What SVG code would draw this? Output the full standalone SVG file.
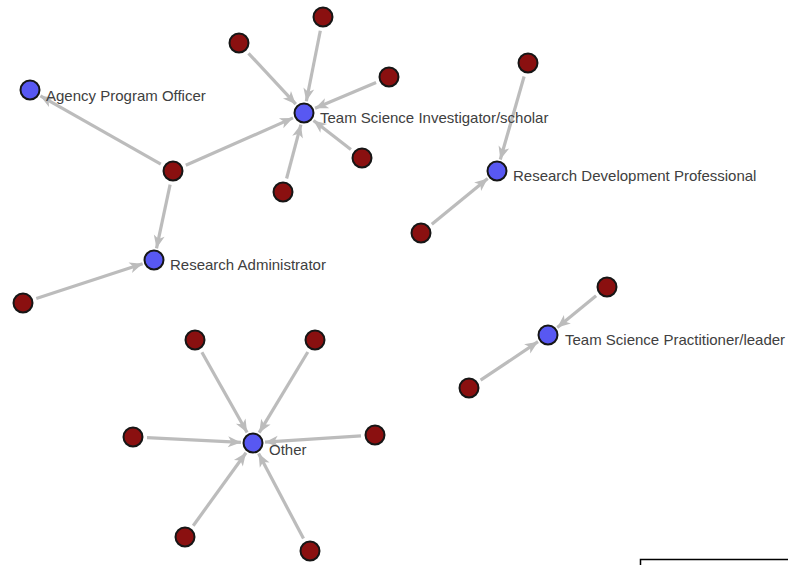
<svg xmlns="http://www.w3.org/2000/svg" width="788" height="565" viewBox="0 0 788 565">
<style>
.e{stroke:#bcbcbc;stroke-width:3.2;fill:none;marker-end:url(#ah)}
.b{fill:#5858f2;stroke:#161616;stroke-width:2}
.r{fill:#8a1010;stroke:#161616;stroke-width:2}
.t{font-family:"Liberation Sans",Arial,sans-serif;font-size:15px;fill:#404040}
</style>
<defs>
<marker id="ah" markerUnits="userSpaceOnUse" markerWidth="14" markerHeight="12" refX="13" refY="5.5" orient="auto" overflow="visible">
<path d="M0,0 L13,5.5 L0,11 L3.5,5.5 Z" fill="#bcbcbc"/>
</marker>
</defs>
<rect width="788" height="565" fill="#fff"/>
<g id="connectors">
<line class="e" x1="248.5" y1="53.3" x2="295.8" y2="104.2"/>
<line class="e" x1="320.3" y1="30.7" x2="306.3" y2="101.2"/>
<line class="e" x1="376.1" y1="82.5" x2="315.1" y2="108.3"/>
<line class="e" x1="350.9" y1="149.4" x2="313.5" y2="120.4"/>
<line class="e" x1="286.6" y1="178.5" x2="300.9" y2="124.6"/>
<line class="e" x1="185.8" y1="165.3" x2="293.0" y2="117.9"/>
<line class="e" x1="160.8" y1="164.1" x2="40.4" y2="95.9"/>
<line class="e" x1="170.1" y1="184.7" x2="156.5" y2="248.3"/>
<line class="e" x1="36.3" y1="298.6" x2="142.6" y2="263.7"/>
<line class="e" x1="524.1" y1="76.5" x2="500.3" y2="159.5"/>
<line class="e" x1="431.8" y1="224.2" x2="487.7" y2="178.6"/>
<line class="e" x1="596.1" y1="295.8" x2="557.3" y2="327.4"/>
<line class="e" x1="480.6" y1="380.2" x2="538.0" y2="341.7"/>
<line class="e" x1="201.9" y1="352.2" x2="247.1" y2="432.5"/>
<line class="e" x1="307.8" y1="352.0" x2="259.2" y2="432.7"/>
<line class="e" x1="147.0" y1="437.7" x2="241.0" y2="442.4"/>
<line class="e" x1="361.0" y1="435.9" x2="265.0" y2="442.2"/>
<line class="e" x1="193.2" y1="525.7" x2="246.0" y2="452.7"/>
<line class="e" x1="303.5" y1="538.6" x2="258.6" y2="453.6"/>
</g>
<g id="apo"><circle class="b" cx="30" cy="90" r="9.5"/><text class="t" x="46" y="101">Agency Program Officer</text></g>
<g id="tsi"><circle class="b" cx="304" cy="113" r="9.5"/><text class="t" x="320" y="123">Team Science Investigator/scholar</text></g>
<g id="rdp"><circle class="b" cx="497" cy="171" r="9.5"/><text class="t" x="513" y="181">Research Development Professional</text></g>
<g id="ra"><circle class="b" cx="154" cy="260" r="9.5"/><text class="t" x="170" y="270">Research Administrator</text></g>
<g id="tsp"><circle class="b" cx="548" cy="335" r="9.5"/><text class="t" x="565" y="345">Team Science Practitioner/leader</text></g>
<g id="other"><circle class="b" cx="253" cy="443" r="9.5"/><text class="t" x="269" y="455">Other</text></g>
<g id="r1"><circle class="r" cx="239" cy="43" r="9.5"/></g>
<g id="r2"><circle class="r" cx="323" cy="17" r="9.5"/></g>
<g id="r3"><circle class="r" cx="389" cy="77" r="9.5"/></g>
<g id="r4"><circle class="r" cx="362" cy="158" r="9.5"/></g>
<g id="r5"><circle class="r" cx="283" cy="192" r="9.5"/></g>
<g id="hub"><circle class="r" cx="173" cy="171" r="9.5"/></g>
<g id="r6"><circle class="r" cx="23" cy="303" r="9.5"/></g>
<g id="r7"><circle class="r" cx="528" cy="63" r="9.5"/></g>
<g id="r8"><circle class="r" cx="421" cy="233" r="9.5"/></g>
<g id="r9"><circle class="r" cx="607" cy="287" r="9.5"/></g>
<g id="r10"><circle class="r" cx="469" cy="388" r="9.5"/></g>
<g id="r11"><circle class="r" cx="195" cy="340" r="9.5"/></g>
<g id="r12"><circle class="r" cx="315" cy="340" r="9.5"/></g>
<g id="r13"><circle class="r" cx="133" cy="437" r="9.5"/></g>
<g id="r14"><circle class="r" cx="375" cy="435" r="9.5"/></g>
<g id="r15"><circle class="r" cx="185" cy="537" r="9.5"/></g>
<g id="r16"><circle class="r" cx="310" cy="551" r="9.5"/></g>
<path d="M640.5,566 V559.5 H788" fill="none" stroke="#000" stroke-width="1.5"/>
</svg>
